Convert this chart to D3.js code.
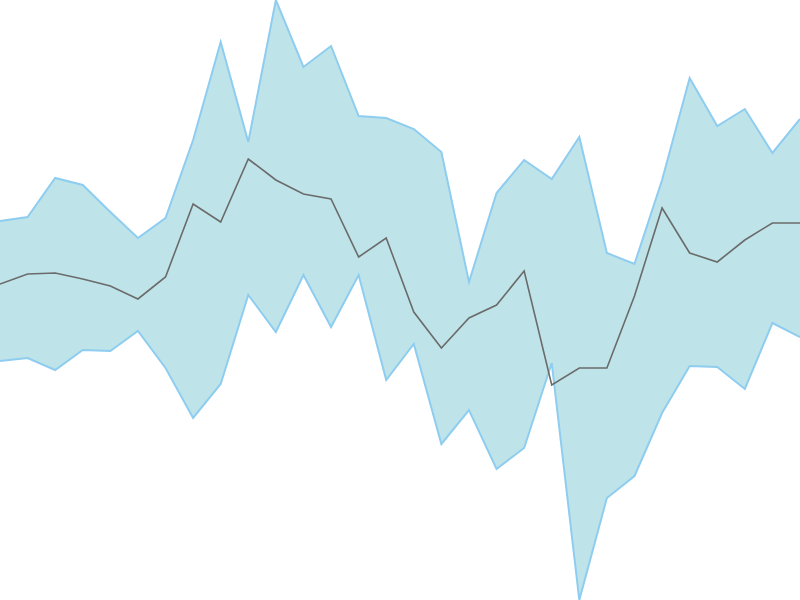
<!DOCTYPE html>
<html>
<head>
<meta charset="utf-8">
<script src="https://cdn.jsdelivr.net/npm/d3@7"></script>
<style>
  html, body { margin: 0; padding: 0; background: #fff; overflow: hidden; }
  svg { display: block; }
</style>
</head>
<body>
<div id="chart"></div>
<script>
const steps = d3.range(30);

const upper = [37.9, 38.3, 42.2, 41.5, 38.8, 36.2, 38.2, 46.0, 55.8, 45.8,
               60.0, 53.3, 55.4, 48.4, 48.2, 47.1, 44.8, 31.8, 40.7, 44.0,
               42.1, 46.3, 34.7, 33.6, 42.0, 52.2, 47.4, 49.1, 44.7, 48.1];

const middle = [31.6, 32.6, 32.7, 32.1, 31.4, 30.1, 32.3, 39.6, 37.8, 44.1,
                42.0, 40.6, 40.1, 34.3, 36.2, 28.8, 25.2, 28.2, 29.5, 32.9,
                21.5, 23.2, 23.2, 30.4, 39.2, 34.7, 33.8, 36.0, 37.7, 37.7];

const lower = [23.9, 24.2, 23.0, 25.0, 24.9, 26.9, 23.2, 18.2, 21.6, 30.5,
               26.8, 32.5, 27.3, 32.5, 22.0, 25.6, 15.6, 19.0, 13.1, 15.2,
               23.7, 0.0, 10.2, 12.4, 18.7, 23.4, 23.3, 21.1, 27.7, 26.3];

const width = 800;
const height = 600;

const svg = d3.select("#chart").append("svg")
   .attr("width", width)
   .attr("height", height);

const xScale = d3.scaleLinear()
   .domain(d3.extent(steps))
   .range([0, width]);

const yScale = d3.scaleLinear()
   .domain([d3.min(lower), d3.max(upper)])
   .range([height, 0]);

const band = d3.area()
   .x(i => xScale(i))
   .y0(i => yScale(lower[i]))
   .y1(i => yScale(upper[i]));

svg.append("path")
   .datum(steps)
   .attr("fill", "#bee4e9")
   .attr("d", band);

const upperLine = d3.line().x(i => xScale(i)).y(i => yScale(upper[i]));
const lowerLine = d3.line().x(i => xScale(i)).y(i => yScale(lower[i]));
const midLine = d3.line().x(i => xScale(i)).y(i => yScale(middle[i]));

[upperLine, lowerLine].forEach(gen => {
  svg.append("path")
     .datum(steps)
     .attr("fill", "none")
     .attr("stroke", "#8ecdf0")
     .attr("stroke-width", 2)
     .attr("d", gen);
});

svg.append("path")
   .datum(steps)
   .attr("fill", "none")
   .attr("stroke", "#6b6b6b")
   .attr("stroke-width", 1.6)
   .attr("d", midLine);
</script>
</body>
</html>
